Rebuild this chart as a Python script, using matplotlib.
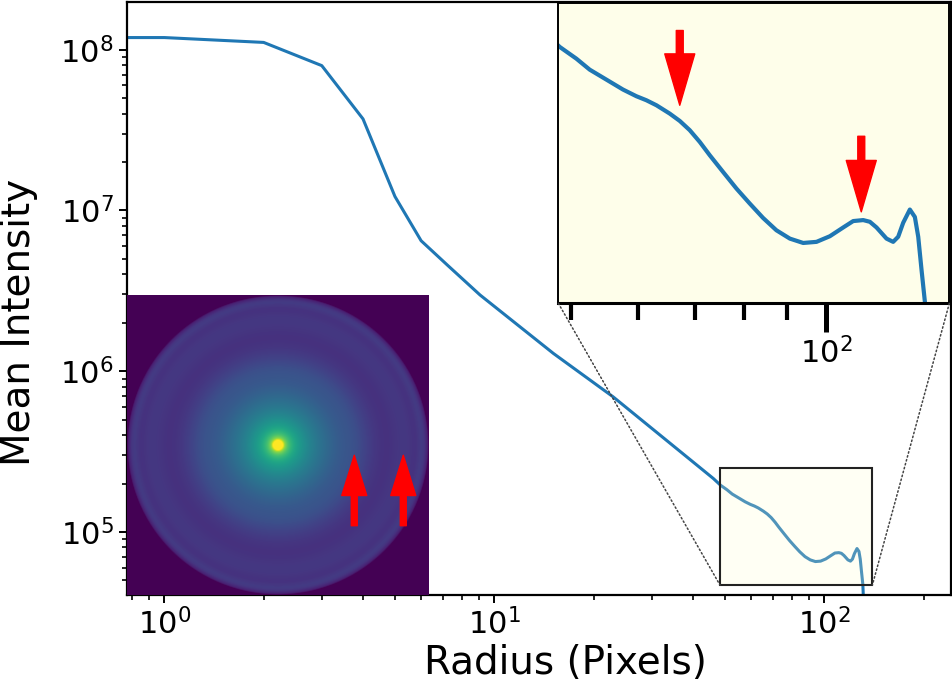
import numpy as np
import matplotlib
matplotlib.use("Agg")
import matplotlib.pyplot as plt
from matplotlib.patches import Rectangle, ConnectionPatch
from matplotlib.ticker import NullFormatter, NullLocator

# radial profile
radius = [0.5, 1, 2, 3, 4, 5, 6, 7.2, 9.05, 15.1, 22.9, 46.1,
          48.49, 50.72, 52.60, 55.04, 57.59, 59.72, 61.37, 63.07, 65.39,
          67.20, 69.05, 70.96, 72.91, 75.60, 78.40, 81.29, 84.29, 87.40,
          90.67, 94.01, 97.47, 101.08, 104.82, 107.71, 110.68, 112.70,
          114.77, 117.93, 120.08, 121.73, 123.40, 125.66, 127.38, 128.55,
          129.72, 130.90, 131.6, 132.3]
intensity = [1.19e8, 1.19e8, 1.11e8, 7.96e7, 3.71e7, 1.22e7, 6.48e6, 4.58e6,
             2.98e6, 1.29e6, 6.93e5, 2.15e5,
             1.952e5, 1.829e5, 1.720e5, 1.627e5, 1.539e5, 1.483e5, 1.450e5,
             1.410e5, 1.346e5, 1.292e5, 1.227e5, 1.149e5, 1.067e5, 9.72e4,
             8.86e4, 8.15e4, 7.52e4, 7.02e4, 6.70e4, 6.54e4, 6.58e4, 6.79e4,
             7.13e4, 7.39e4, 7.43e4, 7.36e4, 7.13e4, 6.70e4, 6.58e4, 6.77e4,
             7.32e4, 7.88e4, 7.56e4, 6.77e4, 5.62e4, 4.71e4, 3.6e4, 2.5e4]

xlim_main = (0.769, 241.6)
ylim_main = (4.05e4, 1.98e8)
zoom_x = (48.3, 139.9)
zoom_y = (4.67e4, 2.49e5)

# features marked with red arrows
arrow_r = [67.2, 110.1]
arrow_tip = [1.41e5, 7.78e4]
arrow_tail = [2.14e5, 1.186e5]

blue = "#1f77b4"
pale = "#fefeea"

fig = plt.figure(figsize=(9.52, 6.96), dpi=100)
ax = fig.add_axes([0.1331, 0.1451, 0.8655, 0.852])
ax.plot(radius, intensity, color=blue, lw=2.2, zorder=2)
ax.set_xscale("log")
ax.set_yscale("log")
ax.set_xlim(*xlim_main)
ax.set_ylim(*ylim_main)
ax.set_xlabel("Radius (Pixels)", fontsize=28)
ax.set_ylabel("Mean Intensity", fontsize=28)
ax.xaxis.set_label_coords(0.533, -0.082)
ax.yaxis.set_label_coords(-0.108, 0.46)
ax.tick_params(which="major", labelsize=22, length=6, width=1.4)
ax.tick_params(which="minor", length=3.6, width=1.2)
for s in ax.spines.values():
    s.set_linewidth(1.6)

# zoom box in the main axes
box = Rectangle((zoom_x[0], zoom_y[0]), zoom_x[1] - zoom_x[0], zoom_y[1] - zoom_y[0],
                facecolor=(1, 1, 0.82, 0.22), edgecolor="#222222", lw=1.5, zorder=3)
ax.add_patch(box)

# zoomed inset
axins = fig.add_axes([0.5865, 0.5642, 0.4107, 0.4310])
axins.set_facecolor(pale)
axins.plot(radius, intensity, color=blue, lw=3)
axins.set_xscale("log")
axins.set_yscale("log")
axins.set_xlim(*zoom_x)
axins.set_ylim(*zoom_y)
axins.yaxis.set_major_locator(NullLocator())
axins.yaxis.set_minor_locator(NullLocator())
axins.xaxis.set_minor_formatter(NullFormatter())
axins.tick_params(which="major", labelsize=22, length=21, width=3.6)
axins.tick_params(which="minor", length=12, width=3)
for s in axins.spines.values():
    s.set_linewidth(1.4)
axins.spines["bottom"].set_linewidth(2.2)

for r, tip, tail in zip(arrow_r, arrow_tip, arrow_tail):
    axins.annotate("", xy=(r, tip), xytext=(r, tail),
                   arrowprops=dict(facecolor="red", edgecolor="red", width=5,
                                   headwidth=21.6, headlength=37, shrink=0))

# dotted connectors
for fx, bx in [(0, zoom_x[0]), (1, zoom_x[1])]:
    con = ConnectionPatch(xyA=(fx, 0), coordsA=axins.transAxes,
                          xyB=(bx, zoom_y[0]), coordsB=ax.transData,
                          linestyle=":", color="#444444", lw=1.1)
    fig.add_artist(con)

# detector image rebuilt from the radial profile
axim = fig.add_axes([0.1331, 0.1451, 0.3168, 0.4310])
R = 132
coords = np.linspace(-R, R, 301)
xx, yy = np.meshgrid(coords, coords)
rr = np.clip(np.hypot(xx, yy), 0.5, None)
img = np.interp(np.log10(rr), np.log10(radius), np.log10(intensity))
axim.imshow(img, cmap="viridis", vmin=4.4, vmax=7.3, extent=[-R, R, -R, R],
            origin="lower", aspect="auto", interpolation="bilinear")
axim.set_axis_off()
for r in arrow_r:
    axim.annotate("", xy=(r, -9), xytext=(r, -71),
                  arrowprops=dict(facecolor="red", edgecolor="red", width=4.3,
                                  headwidth=18, headlength=29, shrink=0))

fig.savefig("out.png", dpi=100)
